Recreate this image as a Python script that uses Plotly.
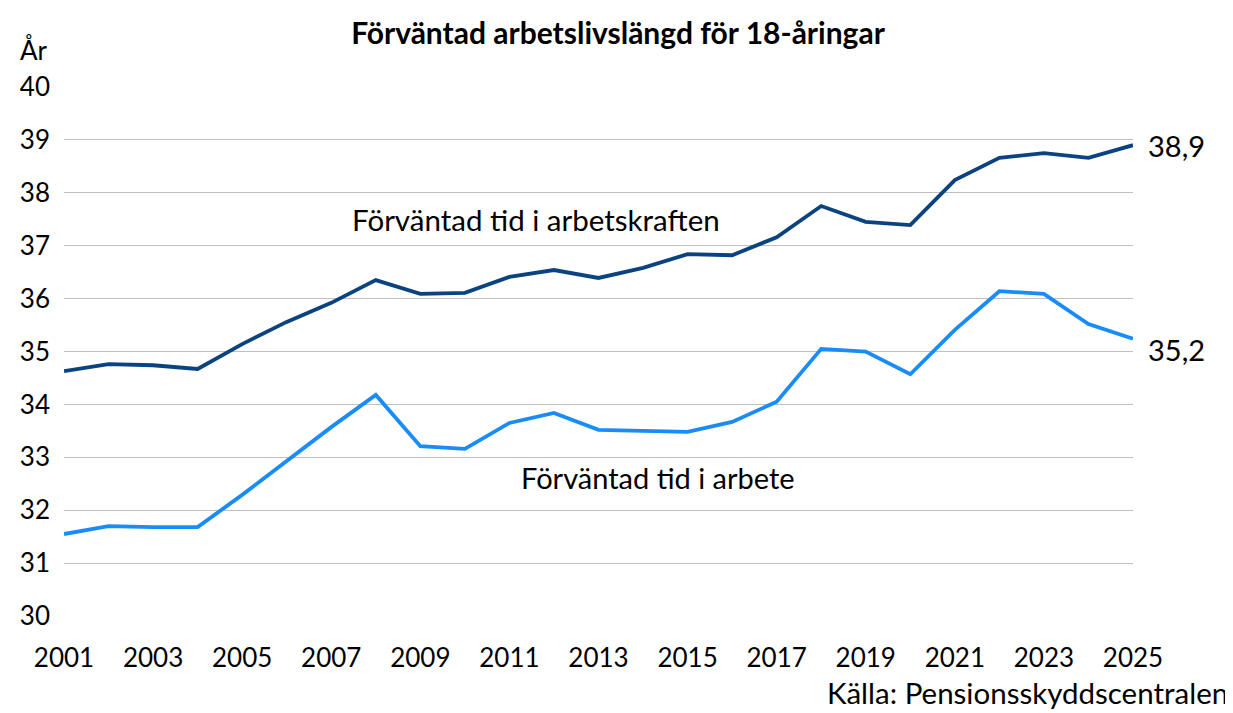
import plotly.graph_objects as go

years = list(range(2001, 2026))
arbetskraft = [34.63, 34.76, 34.74, 34.67, 35.14, 35.56, 35.92, 36.35, 36.09, 36.11,
               36.41, 36.54, 36.39, 36.58, 36.84, 36.82, 37.16, 37.75, 37.45, 37.39,
               38.24, 38.66, 38.75, 38.66, 38.90]
arbete = [31.55, 31.70, 31.68, 31.68, 32.29, 32.93, 33.57, 34.18, 33.21, 33.16,
          33.65, 33.84, 33.52, 33.50, 33.48, 33.67, 34.05, 35.05, 35.00, 34.57,
          35.41, 36.14, 36.09, 35.52, 35.24]
x_ticks = list(range(2001, 2026, 2))
y_ticks = list(range(30, 41))

FONT = "Lato"
dark = "#0B4380"
light = "#1A8CF7"

fig = go.Figure()
fig.add_trace(go.Scatter(x=years, y=arbetskraft, mode="lines",
                         line=dict(color=dark, width=3.8), showlegend=False))
fig.add_trace(go.Scatter(x=years, y=arbete, mode="lines",
                         line=dict(color=light, width=3.8), showlegend=False))

fig.update_layout(
    width=1225, height=705,
    margin=dict(l=56, r=100, t=79, b=97),
    paper_bgcolor="white", plot_bgcolor="white",
    font=dict(family=FONT, color="black", size=26),
    title=dict(text="<b>Förväntad arbetslivslängd för 18-åringar</b>",
               x=(610) / 1225, xanchor="center", y=1 - 25 / 705, yanchor="middle",
               font=dict(size=30, family=FONT)),
    xaxis=dict(range=[2001, 2025], tickvals=x_ticks, ticktext=[str(v) for v in x_ticks],
               showgrid=False, zeroline=False, showline=False, ticks="",
               tickfont=dict(size=26), ticklabelstandoff=24, automargin=False),
    yaxis=dict(range=[30, 40], tickvals=y_ticks, showgrid=True, gridcolor="#BFBFBF",
               gridwidth=1.2, zeroline=False, showline=False, ticks="",
               tickfont=dict(size=26), ticklabelstandoff=13, automargin=False),
)

fig.add_annotation(text="År", xref="paper", yref="paper", x=-0.043, y=1.07,
                   xanchor="left", yanchor="middle", showarrow=False, font=dict(size=26))
fig.add_annotation(text="Förväntad tid i arbetskraften", x=2011.6, y=37.49,
                   xanchor="center", yanchor="middle", showarrow=False, font=dict(size=29.5))
fig.add_annotation(text="Förväntad tid i arbete", x=2014.34, y=32.61,
                   xanchor="center", yanchor="middle", showarrow=False, font=dict(size=29))
fig.add_annotation(text="38,9", x=2025, y=arbetskraft[-1], xshift=13,
                   xanchor="left", yanchor="middle", showarrow=False, font=dict(size=29))
fig.add_annotation(text="35,2", x=2025, y=arbete[-1], xshift=13, yshift=-11,
                   xanchor="left", yanchor="middle", showarrow=False, font=dict(size=29))
fig.add_annotation(text="Källa: Pensionsskyddscentralen", xref="paper", yref="paper",
                   x=1.0907, y=-0.1437, xanchor="right", yanchor="middle",
                   showarrow=False, font=dict(size=29.5))

fig.write_html("out.html")
